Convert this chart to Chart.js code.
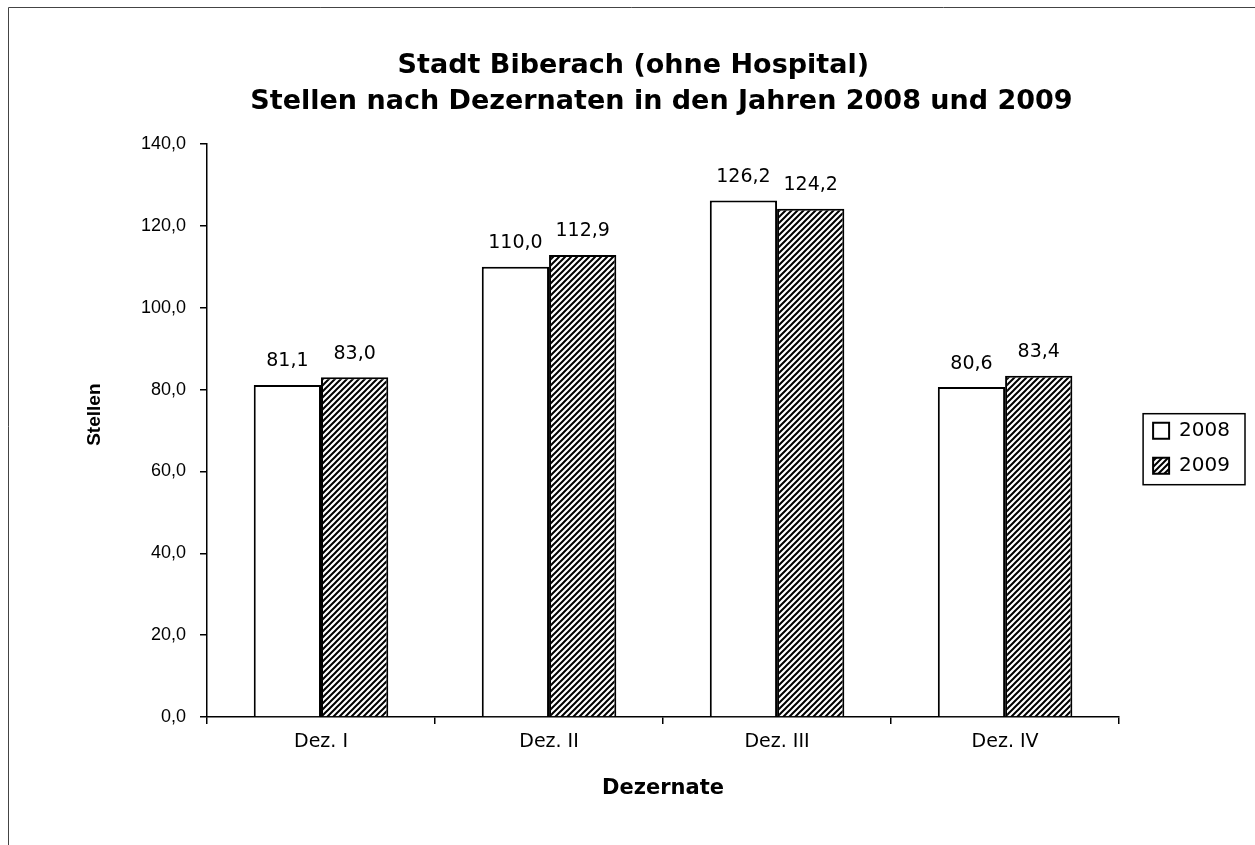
<!DOCTYPE html>
<html>
<head>
<meta charset="utf-8">
<script src="https://cdn.jsdelivr.net/npm/chart.js@4"></script>
<style>
html, body { margin: 0; padding: 0; background: #fff; }
#wrap { width: 1255px; height: 845px; }
</style>
</head>
<body>
<div id="wrap"><canvas id="myChart" width="1255" height="845"></canvas></div>
<script>
const categories = ['Dez. I', 'Dez. II', 'Dez. III', 'Dez. IV'];
const values2008 = [81.1, 110.0, 126.2, 80.6];
const values2009 = [83.0, 112.9, 124.2, 83.4];
const seriesLabels = ['2008', '2009'];

const SANS = '"Liberation Sans", Arial, sans-serif';
const WIDE = '"DejaVu Sans", sans-serif';
const NB = '\u00a0\u00a0\u00a0\u00a0\u00a0\u00a0';

function hatch() {
	const c = document.createElement('canvas');
	c.width = 6; c.height = 6;
	const g = c.getContext('2d');
	g.fillStyle = '#fff';
	g.fillRect(0, 0, 6, 6);
	g.strokeStyle = '#000';
	g.lineWidth = 2;
	g.beginPath();
	g.moveTo(-1, 7); g.lineTo(7, -1);
	g.moveTo(-4, 4); g.lineTo(4, -4);
	g.moveTo(2, 10); g.lineTo(10, 2);
	g.stroke();
	return g.createPattern(c, 'repeat');
}

const fmt = v => v.toFixed(1).replace('.', ',');

const valueLabels = {
	id: 'valueLabels',
	afterDatasetsDraw(chart) {
		const ctx = chart.ctx;
		ctx.save();
		ctx.fillStyle = '#000';
		ctx.font = '19px ' + WIDE;
		ctx.textAlign = 'center';
		ctx.textBaseline = 'bottom';
		chart.data.datasets.forEach((ds, i) => {
			chart.getDatasetMeta(i).data.forEach((bar, j) => {
				ctx.fillText(fmt(ds.data[j]), bar.x, bar.y - 14);
			});
		});
		ctx.restore();
	}
};

const frame = {
	id: 'frame',
	afterDraw(chart) {
		const ctx = chart.ctx;
		ctx.save();
		ctx.strokeStyle = '#444';
		ctx.lineWidth = 1;
		ctx.beginPath();
		ctx.moveTo(8.5, 845); ctx.lineTo(8.5, 7.5); ctx.lineTo(1255, 7.5);
		ctx.stroke();
		const lg = chart.legend;
		if (lg && lg.legendHitBoxes.length) {
			const b = lg.legendHitBoxes;
			const x0 = b[0].left - 10;
			const y0 = b[0].top - 7;
			const x1 = Math.max(...b.map(h => h.left + h.width)) + 15;
			const y1 = b[b.length - 1].top + b[b.length - 1].height + 9;
			ctx.strokeStyle = '#000';
			ctx.lineWidth = 1.5;
			ctx.strokeRect(x0, y0, x1 - x0, y1 - y0);
		}
		ctx.restore();
	}
};

new Chart(document.getElementById('myChart').getContext('2d'), {
	type: 'bar',
	data: {
		labels: categories,
		datasets: [{
			label: seriesLabels[0],
			data: values2008,
			backgroundColor: '#fff',
			borderColor: '#000',
			borderWidth: 2,
			borderSkipped: 'bottom'
		}, {
			label: seriesLabels[1],
			data: values2009,
			backgroundColor: hatch(),
			borderColor: '#000',
			borderWidth: 2,
			borderSkipped: 'bottom'
		}]
	},
	options: {
		responsive: false,
		animation: false,
		events: [],
		layout: { padding: { left: 83, right: 15, top: 40, bottom: 33 } },
		datasets: { bar: { categoryPercentage: 0.59, barPercentage: 1 } },
		plugins: {
			title: {
				display: true,
				// first line sits a bit left of centre in the original
				text: ['Stadt Biberach (ohne Hospital)' + NB, 'Stellen nach Dezernaten in den Jahren 2008 und 2009'],
				color: '#000',
				font: { family: WIDE, size: 27, weight: 'bold', lineHeight: 1.333 },
				padding: { top: 8, bottom: 24 }
			},
			legend: {
				position: 'right',
				title: { display: true, text: ' ', font: { size: 12 }, padding: 15 },
				labels: {
					color: '#000',
					font: { family: WIDE, size: 20 },
					boxWidth: 16,
					boxHeight: 16,
					padding: 15,
					useBorderRadius: false
				}
			},
			tooltip: { enabled: false }
		},
		scales: {
			y: {
				min: 0,
				max: 140,
				ticks: {
					stepSize: 20,
					color: '#000',
					font: { family: SANS, size: 18 },
					padding: 14,
					callback: v => fmt(v)
				},
				grid: { drawOnChartArea: false, drawTicks: true, tickLength: 7, color: '#000', lineWidth: 1.5 },
				border: { color: '#000', width: 1.5 },
				title: {
					display: true,
					// sits a little above the middle of the axis in the original
					text: NB + 'Stellen',
					color: '#000',
					font: { family: SANS, size: 19, weight: 'bold' },
					padding: 0
				},
				afterFit(axis) { axis.width = 124; }
			},
			// empty spacer between plot and legend
			gap: {
				position: 'right',
				display: true,
				ticks: { display: false },
				grid: { display: false },
				border: { display: false },
				afterFit(axis) { axis.width = 19; }
			},
			x: {
				ticks: {
					color: '#000',
					font: { family: WIDE, size: 19 },
					padding: 7
				},
				grid: { drawOnChartArea: false, drawTicks: true, tickLength: 7, color: '#000', lineWidth: 1.5, offset: true },
				border: { color: '#000', width: 1.5 },
				title: {
					display: true,
					text: 'Dezernate',
					color: '#000',
					font: { family: WIDE, size: 21, weight: 'bold' },
					padding: { top: 15, bottom: 11 }
				}
			}
		}
	},
	plugins: [valueLabels, frame]
});
</script>
</body>
</html>
